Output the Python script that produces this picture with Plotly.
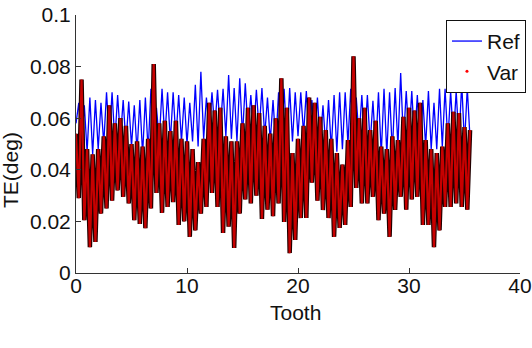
import numpy as np
import plotly.graph_objects as go

# Var: peaks at tooth = 0, 0.5, ..., 35.5 ; troughs at 0.25, 0.75, ..., 35.25
var_peaks = [0.054, 0.075, 0.048, 0.046, 0.048, 0.053, 0.065, 0.058, 0.060, 0.057,
             0.050, 0.051, 0.049, 0.052, 0.081, 0.058, 0.059, 0.055, 0.059, 0.052,
             0.051, 0.048, 0.043, 0.052, 0.066, 0.063, 0.064, 0.053, 0.051, 0.051,
             0.058, 0.064, 0.065, 0.062, 0.057, 0.054, 0.060, 0.0755, 0.064, 0.0465,
             0.052, 0.057, 0.068, 0.066, 0.0605, 0.0554, 0.052, 0.0465, 0.042, 0.0515,
             0.084, 0.060, 0.064, 0.0554, 0.059, 0.049, 0.048, 0.053, 0.0515, 0.0605,
             0.064, 0.063, 0.066, 0.0515, 0.048, 0.0465, 0.049, 0.058, 0.0625, 0.062,
             0.0566, 0.0554]
var_troughs = [0.029, 0.0205, 0.010, 0.012, 0.023, 0.025, 0.028, 0.032, 0.0295, 0.027,
               0.0205, 0.019, 0.0174, 0.025, 0.031, 0.0233, 0.0256, 0.0275, 0.0186, 0.020,
               0.014, 0.0165, 0.023, 0.0256, 0.031, 0.0256, 0.0155, 0.018, 0.0097, 0.023,
               0.0285, 0.027, 0.030, 0.021, 0.0245, 0.022, 0.027, 0.0198, 0.0077, 0.0128,
               0.0213, 0.0213, 0.035, 0.028, 0.0244, 0.0213, 0.014, 0.0175, 0.0186, 0.0256,
               0.033, 0.027, 0.027, 0.0295, 0.0205, 0.023, 0.014, 0.0245, 0.0295, 0.0245,
               0.0285, 0.0295, 0.0186, 0.0186, 0.010, 0.0165, 0.0256, 0.0256, 0.027, 0.0256,
               0.0245]
# Ref: troughs at tooth = 0, 0.5, ..., 35.5 ; peaks at 0.25, 0.75, ..., 35.25
ref_troughs = [0.058, 0.050, 0.047, 0.046, 0.048, 0.050, 0.052, 0.051, 0.052, 0.050,
               0.049, 0.047, 0.046, 0.047, 0.050, 0.051, 0.052, 0.051, 0.052, 0.051,
               0.050, 0.051, 0.049, 0.052, 0.055, 0.056, 0.055, 0.053, 0.052, 0.051,
               0.053, 0.055, 0.054, 0.055, 0.053, 0.051, 0.050, 0.049, 0.050, 0.051,
               0.053, 0.054, 0.053, 0.052, 0.050, 0.049, 0.048, 0.047, 0.048, 0.050,
               0.052, 0.052, 0.051, 0.050, 0.048, 0.046, 0.046, 0.047, 0.049, 0.051,
               0.052, 0.051, 0.050, 0.049, 0.048, 0.048, 0.049, 0.051, 0.052, 0.051,
               0.050, 0.052]
ref_peaks = [0.066, 0.065, 0.068, 0.067, 0.066, 0.070, 0.070, 0.069, 0.067, 0.0665,
             0.065, 0.067, 0.068, 0.0714, 0.064, 0.0714, 0.070, 0.070, 0.069, 0.068,
             0.066, 0.073, 0.078, 0.068, 0.070, 0.071, 0.0714, 0.0767, 0.0717, 0.0755,
             0.0735, 0.069, 0.071, 0.0717, 0.068, 0.067, 0.070, 0.0714, 0.0717, 0.070,
             0.070, 0.0705, 0.067, 0.068, 0.065, 0.067, 0.069, 0.070, 0.070, 0.0714,
             0.068, 0.069, 0.069, 0.0667, 0.070, 0.0714, 0.070, 0.0717, 0.0775, 0.0705,
             0.0705, 0.069, 0.067, 0.0705, 0.066, 0.0714, 0.0714, 0.0705, 0.0705, 0.0735,
             0.0717]

x_ticks = [0, 10, 20, 30, 40]
y_ticks = [0, 0.02, 0.04, 0.06, 0.08, 0.1]
y_ticktext = ["0", "0.02", "0.04", "0.06", "0.08", "0.1"]

assert len(var_peaks) == 72 and len(var_troughs) == 71
assert len(ref_troughs) == 72 and len(ref_peaks) == 71

var_y, ref_y = [], []
for i in range(71):
    var_y += [var_peaks[i], var_troughs[i]]
    ref_y += [ref_troughs[i], ref_peaks[i]]
var_y.append(var_peaks[71])
ref_y.append(ref_troughs[71])
tooth = np.arange(len(var_y)) * 0.25

FONT = "Liberation Sans, Arial, Helvetica, sans-serif"

fig = go.Figure()
fig.add_trace(go.Scatter(x=tooth, y=ref_y, mode="lines", name="Ref",
                         line=dict(color="#0000ff", width=1.3)))
fig.add_trace(go.Scatter(x=tooth, y=var_y, mode="lines", showlegend=False,
                         line=dict(color="#220000", width=4.5)))
fig.add_trace(go.Scatter(x=tooth, y=var_y, mode="lines", showlegend=False,
                         line=dict(color="#c80000", width=2.2)))
fig.add_trace(go.Scatter(x=[None], y=[None], mode="markers", name="Var",
                         marker=dict(color="#ff0000", size=3)))

fig.update_layout(
    width=532, height=348, autosize=False,
    margin=dict(l=76, r=12, t=15, b=75, autoexpand=False),
    paper_bgcolor="white", plot_bgcolor="white",
    font=dict(family=FONT, size=21, color="#111"),
    xaxis=dict(range=[0, 40], tickvals=x_ticks, ticks="inside", ticklen=5,
               tickcolor="#333", showline=True, linecolor="#333", linewidth=1,
               showgrid=False, zeroline=False, tickfont=dict(size=21),
               automargin=False, ticklabelstandoff=-6),
    yaxis=dict(range=[0, 0.1], tickvals=y_ticks, ticktext=y_ticktext,
               ticks="inside", ticklen=5, tickcolor="#333", showline=True,
               linecolor="#333", linewidth=1, showgrid=False, zeroline=False,
               tickfont=dict(size=21), automargin=False),
    legend=dict(x=1.0135, y=0.981, xanchor="right", yanchor="top",
                bgcolor="white", bordercolor="#111", borderwidth=1,
                font=dict(size=21), tracegroupgap=0, itemwidth=30),
    annotations=[
        dict(text="Tooth", x=0.494, y=-0.155, xref="paper", yref="paper",
             showarrow=False, xanchor="center", yanchor="middle",
             font=dict(size=21)),
        dict(text="TE(deg)", x=-0.146, y=0.40, xref="paper", yref="paper",
             showarrow=False, xanchor="center", yanchor="middle",
             textangle=-90, font=dict(size=21)),
    ],
)

fig.write_html("out.html", config={"displayModeBar": False})
